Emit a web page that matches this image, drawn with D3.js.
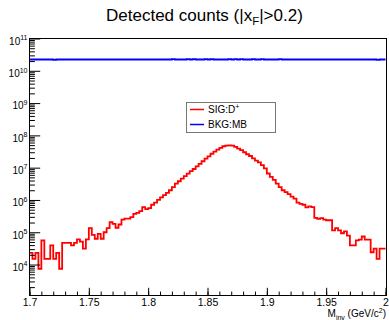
<!DOCTYPE html>
<html><head><meta charset="utf-8">
<script src="https://cdn.jsdelivr.net/npm/d3@7"></script>
<style>
body{margin:0;background:#fff}
svg{display:block;font-family:"Liberation Sans",Arial,Helvetica,sans-serif}
</style>
</head><body>
<svg id="c" width="389" height="320"></svg>
<script>
// ---- data ----
const xRange = [1.7, 2.0];
const nBins = 120;
const sigCounts = [
 2.3e4,1.5e4,2.3e4,7.4e3,5.6e4,1.5e4,1.5e4,3.9e4,1.5e4,2.3e4,
 7.4e3,4.7e4,4.7e4,4.7e4,3.9e4,4.7e4,6.0e4,5.1e4,3.1e4,6.0e4,
 1.35e5,8.3e4,6.3e4,8.9e4,6.3e4,1.0e5,1.35e5,2.04e5,1.82e5,1.38e5,
 1.74e5,2.45e5,2.63e5,2.63e5,2.95e5,3.7e5,4.0e5,4.5e5,6.0e5,5.2e5,
 5.6e5,7.1e5,8.3e5,1.0e6,1.2e6,1.41e6,1.66e6,2.0e6,2.5e6,3.2e6,
 3.8e6,4.6e6,5.5e6,6.5e6,7.8e6,9.1e6,1.1e7,1.32e7,1.58e7,1.9e7,
 2.24e7,2.7e7,3.16e7,3.6e7,4.1e7,4.6e7,4.8e7,4.9e7,4.8e7,4.4e7,
 3.9e7,3.5e7,3.0e7,2.6e7,2.3e7,1.95e7,1.66e7,1.45e7,1.2e7,9.5e6,
 6.6e6,5.2e6,4.2e6,3.2e6,2.5e6,2.0e6,1.74e6,1.51e6,1.26e6,1.1e6,
 8.3e5,7.6e5,7.1e5,5.9e5,6.3e5,6.0e5,2.8e5,2.6e5,2.75e5,2.45e5,
 2.35e5,2.35e5,1.15e5,1.35e5,1.15e5,9.3e4,1.07e5,7.9e4,3.9e4,3.9e4,
 5.6e4,5.9e4,7.4e4,5.9e4,5.9e4,2.4e4,3.1e4,1.5e4,3.1e4,3.1e4
];
const bkgCounts = [
 2.24e10,2.24e10,2.24e10,2.24e10,2.24e10,2.24e10,2.24e10,2.24e10,2.18e10,2.24e10,
 2.24e10,2.24e10,2.24e10,2.24e10,2.24e10,2.24e10,2.24e10,2.24e10,2.24e10,2.24e10,
 2.24e10,2.24e10,2.24e10,2.24e10,2.24e10,2.24e10,2.24e10,2.24e10,2.24e10,2.24e10,
 2.24e10,2.24e10,2.24e10,2.24e10,2.24e10,2.24e10,2.24e10,2.24e10,2.24e10,2.24e10,
 2.24e10,2.24e10,2.24e10,2.24e10,2.24e10,2.24e10,2.24e10,2.24e10,2.29e10,2.24e10,
 2.24e10,2.24e10,2.24e10,2.29e10,2.24e10,2.29e10,2.24e10,2.24e10,2.24e10,2.29e10,
 2.24e10,2.29e10,2.24e10,2.24e10,2.24e10,2.24e10,2.24e10,2.29e10,2.24e10,2.29e10,
 2.24e10,2.29e10,2.24e10,2.24e10,2.24e10,2.29e10,2.24e10,2.24e10,2.29e10,2.24e10,
 2.24e10,2.24e10,2.24e10,2.24e10,2.29e10,2.24e10,2.24e10,2.24e10,2.24e10,2.24e10,
 2.24e10,2.24e10,2.24e10,2.24e10,2.24e10,2.24e10,2.24e10,2.24e10,2.24e10,2.24e10,
 2.24e10,2.24e10,2.24e10,2.24e10,2.24e10,2.24e10,2.24e10,2.24e10,2.24e10,2.24e10,
 2.24e10,2.24e10,2.24e10,2.24e10,2.24e10,2.24e10,2.24e10,2.18e10,2.24e10,2.24e10
];
const xMajorTicks = [1.7, 1.75, 1.8, 1.85, 1.9, 1.95, 2.0];
const xTickLabels = ["1.7", "1.75", "1.8", "1.85", "1.9", "1.95", "2"];
const yDomain = [1.1e3, 1e11];
const yDecadeExponents = [4, 5, 6, 7, 8, 9, 10, 11];
const seriesNames = ["SIG:D", "BKG:MB"];
const seriesColors = ["#ff0000", "#0000ff"];

// ---- layout ----
const W = 389, H = 320;
const m = {l: 29, r: 3, t: 38, b: 25};
const svg = d3.select("#c");
const x = d3.scaleLinear().domain(xRange).range([m.l + 0.5, W - m.r - 0.5]);
const y = d3.scaleLog().domain(yDomain).range([H - m.b + 0.5, m.t + 0.5]);
const plotW = W - m.l - m.r, plotH = H - m.t - m.b;

const binW = (xRange[1] - xRange[0]) / nBins;
function histPoints(arr) {
  const pts = arr.map((v, i) => [xRange[0] + i * binW, v]);
  pts.push([xRange[1], arr[arr.length - 1]]);
  return pts;
}
const line = d3.line().x(d => x(d[0])).y(d => y(d[1])).curve(d3.curveStepAfter);

// clip
svg.append("clipPath").attr("id", "clip").append("rect")
  .attr("x", m.l).attr("y", m.t).attr("width", plotW + 1).attr("height", plotH + 1);

const g = svg.append("g").attr("clip-path", "url(#clip)");
g.append("path").datum(histPoints(bkgCounts)).attr("d", line)
  .attr("fill", "none").attr("stroke", seriesColors[1]).attr("stroke-width", 1.8);
g.append("path").datum(histPoints(sigCounts)).attr("d", line)
  .attr("fill", "none").attr("stroke", seriesColors[0]).attr("stroke-width", 1.8);

// frame
svg.append("rect").attr("x", m.l + 0.5).attr("y", m.t + 0.5)
  .attr("width", plotW).attr("height", plotH)
  .attr("fill", "none").attr("stroke", "#000").attr("stroke-width", 1);

// x axis
const xMinor = d3.range(0, 31).map(i => xRange[0] + i * 0.01);
svg.append("g").attr("transform", `translate(0,${H - m.b + 0.5})`)
  .call(d3.axisBottom(x).tickValues(xMinor).tickSize(-3.9).tickFormat(""))
  .call(s => s.select(".domain").remove());
const xAx = svg.append("g").attr("transform", `translate(0,${H - m.b + 0.5})`)
  .call(d3.axisBottom(x).tickValues(xMajorTicks).tickSize(-7.7).tickPadding(3.5)
    .tickFormat((d, i) => xTickLabels[i]));
xAx.select(".domain").remove();
xAx.selectAll("text").attr("font-size", 10.5).attr("fill", "#000")
  .attr("font-family", '"Liberation Sans",Arial,sans-serif');
xAx.selectAll("line").attr("stroke", "#000");

// y axis
const yMinor = [];
for (let d = 3; d <= 10; d++) for (let k = 2; k <= 9; k++) {
  const v = k * Math.pow(10, d);
  if (v >= yDomain[0] && v <= yDomain[1]) yMinor.push(v);
}
svg.append("g").attr("transform", `translate(${m.l + 0.5},0)`)
  .call(d3.axisLeft(y).tickValues(yMinor).tickSize(-5.4).tickFormat(""))
  .call(s => s.select(".domain").remove());
const yMajor = yDecadeExponents.map(e => Math.pow(10, e));
const yAx = svg.append("g").attr("transform", `translate(${m.l + 0.5},0)`)
  .call(d3.axisLeft(y).tickValues(yMajor).tickSize(-10.7).tickPadding(2).tickFormat(""));
yAx.select(".domain").remove();
yAx.selectAll(".tick").each(function(d, i) {
  const t = d3.select(this).select("text");
  t.attr("dy", null).attr("y", 5.8).attr("font-size", 10).attr("fill", "#000")
   .attr("font-family", '"Liberation Sans",Arial,sans-serif');
  t.text(null);
  t.append("tspan").text("10");
  t.append("tspan").attr("dy", -4.5).attr("font-size", 7).text(String(yDecadeExponents[i]));
});

// title
const title = svg.append("text").attr("x", 106).attr("y", 21)
  .attr("font-size", 17).attr("fill", "#000");
title.append("tspan").text("Detected counts (|x");
title.append("tspan").attr("dy", 4).attr("font-size", 11.5).text("F");
title.append("tspan").attr("dy", -4).text("|>0.2)");

// x-axis title
const xt = svg.append("text").attr("x", W - m.r).attr("y", 317)
  .attr("text-anchor", "end").attr("font-size", 10).attr("fill", "#000");
xt.append("tspan").text("M");
xt.append("tspan").attr("dy", 2.5).attr("font-size", 7).text("inv");
xt.append("tspan").attr("dy", -2.5).text(" (GeV/c");
xt.append("tspan").attr("dy", -4).attr("font-size", 7).text("2");
xt.append("tspan").attr("dy", 4).text(")");

// legend
const lg = svg.append("g");
lg.append("rect").attr("x", 186.5).attr("y", 102.5).attr("width", 89).attr("height", 30)
  .attr("fill", "#fff").attr("stroke", "#777").attr("stroke-width", 1);
const legendY = [109.5, 124.5];
seriesNames.forEach((name, i) => {
  lg.append("line").attr("x1", 190).attr("x2", 204).attr("y1", legendY[i]).attr("y2", legendY[i])
    .attr("stroke", seriesColors[i]).attr("stroke-width", 1.5);
  const t = lg.append("text").attr("x", 208).attr("y", legendY[i] + 3.5)
    .attr("font-size", 10).attr("fill", "#000");
  t.append("tspan").text(name);
  if (i === 0) t.append("tspan").attr("dy", -4).attr("font-size", 7).text("+");
});
</script>
</body></html>
